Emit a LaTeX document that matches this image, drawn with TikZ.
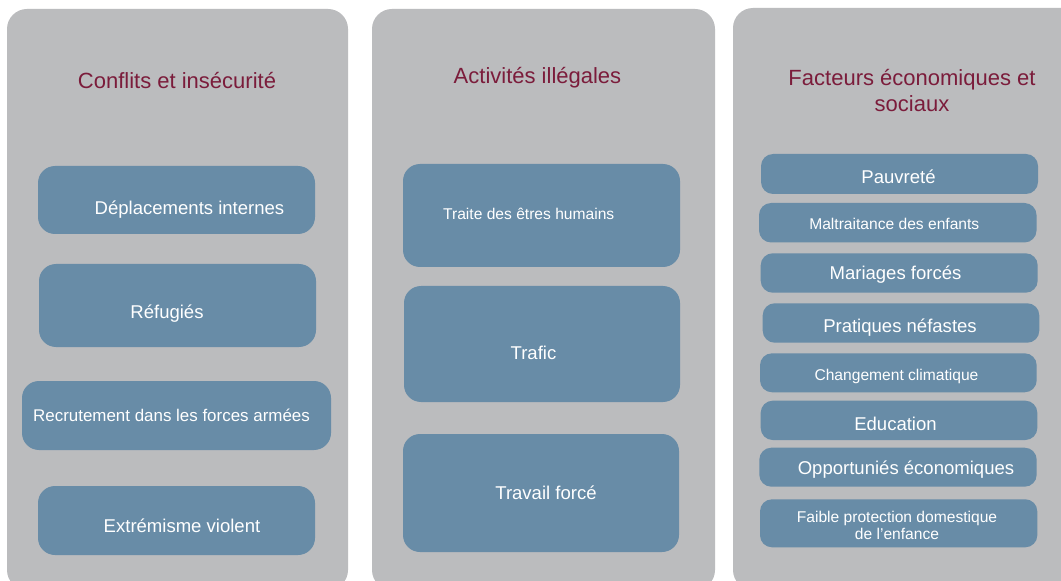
\documentclass[tikz,border=0pt]{standalone}
\usepackage{fontspec}
\setmainfont{Liberation Sans}
\usetikzlibrary{fit}
\definecolor{panelgray}{HTML}{BBBCBE}
\definecolor{boxblue}{HTML}{688CA7}
\definecolor{titlered}{HTML}{7B1C3B}
\begin{document}
\begin{tikzpicture}[x=0.75pt,y=-0.75pt,
  panel/.style={fill=panelgray, draw=none, rounded corners=15pt, inner sep=0pt},
  bigbox/.style={fill=boxblue, draw=none, rounded corners=12.75pt, inner sep=0pt},
  smallbox/.style={fill=boxblue, draw=none, rounded corners=9pt, inner sep=0pt},
  titletext/.style={text=titlered, font=\fontsize{16.5}{18.9}\selectfont, inner sep=0pt, anchor=base},
  bigtext/.style={text=white, font=\fontsize{13.9}{16}\selectfont, inner sep=0pt, anchor=base},
  midtext/.style={text=white, font=\fontsize{12.7}{15}\selectfont, inner sep=0pt, anchor=base},
  smalltext/.style={text=white, font=\fontsize{11.7}{13}\selectfont, inner sep=0pt, anchor=base}]
\useasboundingbox (0,0) rectangle (1061,581);
\clip (0,0) rectangle (1061,581);
\fill[white] (0,0) rectangle (1061,581);

% panels
\node[panel, fit={(7,9)(348,590)}] (p1) {};
\node[panel, fit={(372,9)(715,590)}] (p2) {};
\node[panel, fit={(733,8)(1100,590)}] (p3) {};

% titles
\node[titletext] (h1) at (177,89) {Conflits et insécurité};
\node[titletext] (h2) at (537.5,84) {Activités illégales};
\node[titletext, anchor=center, align=center] (h3) at (912,90.5) {Facteurs économiques et\\sociaux};

% panel 1
\node[bigbox, fit={(38,166)(315,234)}] (a1) {};
\node[bigtext] (ta1) at (189.5,215) {Déplacements internes};
\node[bigbox, fit={(39,264)(316,347)}] (a2) {};
\node[bigtext] (ta2) at (167,318.5) {Réfugiés};
\node[bigbox, fit={(22,381)(331,450)}] (a3) {};
\node[midtext] (ta3) at (171.5,421.5) {Recrutement dans les forces armées};
\node[bigbox, fit={(38,486)(315,555)}] (a4) {};
\node[bigtext] (ta4) at (182,532) {Extrémisme violent};

% panel 2
\node[bigbox, fit={(403,164)(680,267)}] (b1) {};
\node[smalltext] (tb1) at (528.7,219.5) {Traite des êtres humains};
\node[bigbox, fit={(404,286)(680,402)}] (b2) {};
\node[bigtext] (tb2) at (533.5,359.5) {Trafic};
\node[bigbox, fit={(403,434)(679,552)}] (b3) {};
\node[bigtext] (tb3) at (546,499.5) {Travail forcé};

% panel 3
\node[smallbox, fit={(761,154)(1038,194)}] (c1) {};
\node[bigtext] (tc1) at (898.5,183.5) {Pauvreté};
\node[smallbox, fit={(759,203)(1036.5,242.5)}] (c2) {};
\node[smalltext] (tc2) at (894.3,229) {Maltraitance des enfants};
\node[smallbox, fit={(760.7,253.3)(1037.7,292.7)}] (c3) {};
\node[bigtext] (tc3) at (895.5,279.5) {Mariages forcés};
\node[smallbox, fit={(762.7,303.3)(1039.3,342.7)}] (c4) {};
\node[bigtext] (tc4) at (900,332) {Pratiques néfastes};
\node[smallbox, fit={(760,353.3)(1036.7,392.3)}] (c5) {};
\node[smalltext] (tc5) at (896.5,380) {Changement climatique};
\node[smallbox, fit={(760.7,400.7)(1037.3,440)}] (c6) {};
\node[bigtext] (tc6) at (895.5,430.3) {Education};
\node[smallbox, fit={(759.3,447.7)(1036.7,486.7)}] (c7) {};
\node[bigtext] (tc7) at (906,474) {Opportuniés économiques};
\node[smallbox, fit={(760,499.3)(1037.3,547.3)}] (c8) {};
\node[smalltext, anchor=center, align=center] (tc8) at (897,525.3) {Faible protection domestique\\de l’enfance};
\end{tikzpicture}
\end{document}
